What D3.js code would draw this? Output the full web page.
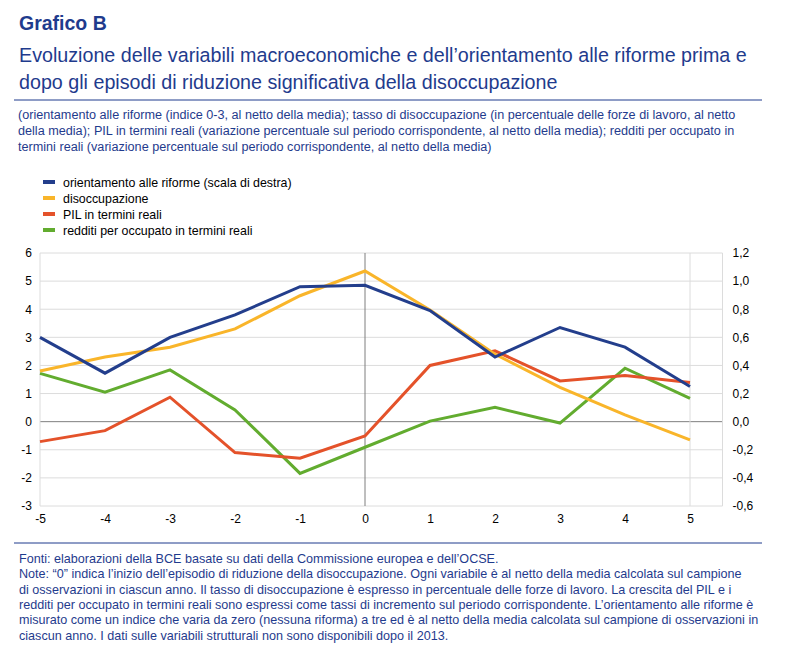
<!DOCTYPE html>
<html>
<head>
<meta charset="utf-8">
<script src="https://cdn.jsdelivr.net/npm/d3@7"></script>
<style>
  body { margin: 0; background: #fff; }
  .narrow { font-family: "Liberation Sans Narrow", "Arial Narrow", "Liberation Sans", sans-serif; }
  .sans { font-family: "Liberation Sans", Arial, sans-serif; }
</style>
</head>
<body>
<script>
const years = [-5, -4, -3, -2, -1, 0, 1, 2, 3, 4, 5];
const riforme = [0.60, 0.345, 0.60, 0.76, 0.96, 0.97, 0.79, 0.46, 0.67, 0.53, 0.25];
const disoccupazione = [1.8, 2.3, 2.65, 3.3, 4.48, 5.36, 3.97, 2.4, 1.22, 0.24, -0.65];
const pil = [-0.71, -0.32, 0.87, -1.1, -1.3, -0.51, 2.0, 2.52, 1.45, 1.64, 1.39];
const redditi = [1.72, 1.05, 1.84, 0.42, -1.84, -0.91, 0.02, 0.51, -0.05, 1.9, 0.83];
const leftTicks = [-3, -2, -1, 0, 1, 2, 3, 4, 5, 6];
const rightTicks = [-0.6, -0.4, -0.2, 0, 0.2, 0.4, 0.6, 0.8, 1.0, 1.2];

const legendNames = [
  'orientamento alle riforme (scala di destra)',
  'disoccupazione',
  'PIL in termini reali',
  'redditi per occupato in termini reali'
];
const colors = ['#233e8c', '#f9b52a', '#e4522a', '#62ac2f'];

const width = 785, height = 648;
const navy = '#1f3b8d';

const svg = d3.select('body').append('svg')
  .attr('width', width).attr('height', height);

// title block
svg.append('text').attr('class', 'sans')
  .attr('x', 19).attr('y', 30)
  .style('font-size', '19.5px').style('font-weight', 'bold').style('fill', navy)
  .text('Grafico B');
const titleLines = [
  'Evoluzione delle variabili macroeconomiche e dell\u2019orientamento alle riforme prima e',
  'dopo gli episodi di riduzione significativa della disoccupazione'
];
titleLines.forEach((t, i) => {
  svg.append('text').attr('class', 'narrow')
    .attr('x', 19).attr('y', 62 + i * 27)
    .style('font-size', '19.7px').style('fill', navy)
    .text(t);
});
svg.append('line').attr('x1', 14).attr('x2', 762).attr('y1', 100).attr('y2', 100)
  .style('stroke', navy).style('stroke-width', 1);

const subLines = [
  '(orientamento alle riforme (indice 0-3, al netto della media); tasso di disoccupazione (in percentuale delle forze di lavoro, al netto',
  'della media); PIL in termini reali (variazione percentuale sul periodo corrispondente, al netto della media); redditi per occupato in',
  'termini reali (variazione percentuale sul periodo corrispondente, al netto della media)'
];
subLines.forEach((t, i) => {
  svg.append('text').attr('class', 'narrow')
    .attr('x', 18).attr('y', 119 + i * 16)
    .style('font-size', '12.65px').style('fill', navy)
    .text(t);
});

// legend
legendNames.forEach((n, i) => {
  const g = svg.append('g').attr('transform', `translate(43, ${182 + i * 16})`);
  g.append('rect').attr('x', 0).attr('y', -2).attr('width', 12).attr('height', 4)
    .style('fill', colors[i]);
  g.append('text').attr('class', 'sans').attr('x', 20).attr('y', 4.5)
    .style('font-size', '12.4px').style('fill', '#000').text(n);
});

// plot
const x = d3.scaleLinear().domain([-5, 5.5]).range([40, 722.5]);
const y = d3.scaleLinear().domain([-3, 6]).range([506, 253]);
const yR = d3.scaleLinear().domain([-0.6, 1.2]).range([506, 253]);

const plot = svg.append('g');

plot.selectAll('line.grid').data(leftTicks).enter().append('line')
  .attr('class', 'grid')
  .attr('x1', x(-5)).attr('x2', x(5.5))
  .attr('y1', d => y(d)).attr('y2', d => y(d))
  .style('stroke', d => d === 0 ? '#7f7f7f' : '#dcdcdc')
  .style('stroke-width', 1);

[-5, 5, 5.5].forEach(v => {
  plot.append('line').attr('x1', x(v)).attr('x2', x(v))
    .attr('y1', y(6)).attr('y2', y(-3))
    .style('stroke', '#dcdcdc').style('stroke-width', 1);
});
plot.append('line').attr('x1', x(0)).attr('x2', x(0))
  .attr('y1', y(6)).attr('y2', y(-3))
  .style('stroke', '#7f7f7f').style('stroke-width', 1);

const leftAxis = d3.axisLeft(y).tickValues(leftTicks).tickSize(0).tickPadding(8)
  .tickFormat(d3.format('d'));
const gl = svg.append('g').attr('transform', `translate(${x(-5)},0)`).call(leftAxis);
gl.select('.domain').remove();

const fmtR = d => d3.format('.1f')(d).replace('.', ',').replace('\u2212', '-');
const rightAxis = d3.axisRight(yR).tickValues(rightTicks).tickSize(0).tickPadding(10)
  .tickFormat(fmtR);
const gr = svg.append('g').attr('transform', `translate(${x(5.5)},0)`).call(rightAxis);
gr.select('.domain').remove();

const bottomAxis = d3.axisBottom(x).tickValues(years).tickSize(0).tickPadding(8)
  .tickFormat(d => d3.format('d')(d).replace('\u2212', '-'));
const gb = svg.append('g').attr('transform', `translate(0,${y(-3)})`).call(bottomAxis);
gb.select('.domain').remove();

svg.selectAll('.tick text').attr('class', 'sans')
  .style('font-size', '12px').style('fill', '#000');
gl.selectAll('.tick text').text(d => String(d));

const seriesLeft = [
  { vals: disoccupazione, c: colors[1] },
  { vals: pil, c: colors[2] },
  { vals: redditi, c: colors[3] }
];

const lineL = d3.line().x((d, i) => x(years[i])).y(d => y(d));
const lineR = d3.line().x((d, i) => x(years[i])).y(d => yR(d));

// draw order: green, red, yellow, blue on top
[seriesLeft[2], seriesLeft[1], seriesLeft[0]].forEach(s => {
  plot.append('path').datum(s.vals).attr('d', lineL)
    .style('fill', 'none').style('stroke', s.c).style('stroke-width', 3)
    .style('stroke-linejoin', 'miter');
});
plot.append('path').datum(riforme).attr('d', lineR)
  .style('fill', 'none').style('stroke', colors[0]).style('stroke-width', 3);

// footer
svg.append('line').attr('x1', 14).attr('x2', 762).attr('y1', 543).attr('y2', 543)
  .style('stroke', navy).style('stroke-width', 1);
const notes = [
  'Fonti: elaborazioni della BCE basate su dati della Commissione europea e dell\u2019OCSE.',
  'Note: \u201C0\u201D indica l\u2019inizio dell\u2019episodio di riduzione della disoccupazione. Ogni variabile \u00E8 al netto della media calcolata sul campione',
  'di osservazioni in ciascun anno. Il tasso di disoccupazione \u00E8 espresso in percentuale delle forze di lavoro. La crescita del PIL e i',
  'redditi per occupato in termini reali sono espressi come tassi di incremento sul periodo corrispondente. L\u2019orientamento alle riforme \u00E8',
  'misurato come un indice che varia da zero (nessuna riforma) a tre ed \u00E8 al netto della media calcolata sul campione di osservazioni in',
  'ciascun anno. I dati sulle variabili strutturali non sono disponibili dopo il 2013.'
];
notes.forEach((t, i) => {
  svg.append('text').attr('class', 'narrow')
    .attr('x', 19).attr('y', 563 + i * 15.3)
    .style('font-size', '12.6px').style('fill', navy)
    .text(t);
});
</script>
</body>
</html>
